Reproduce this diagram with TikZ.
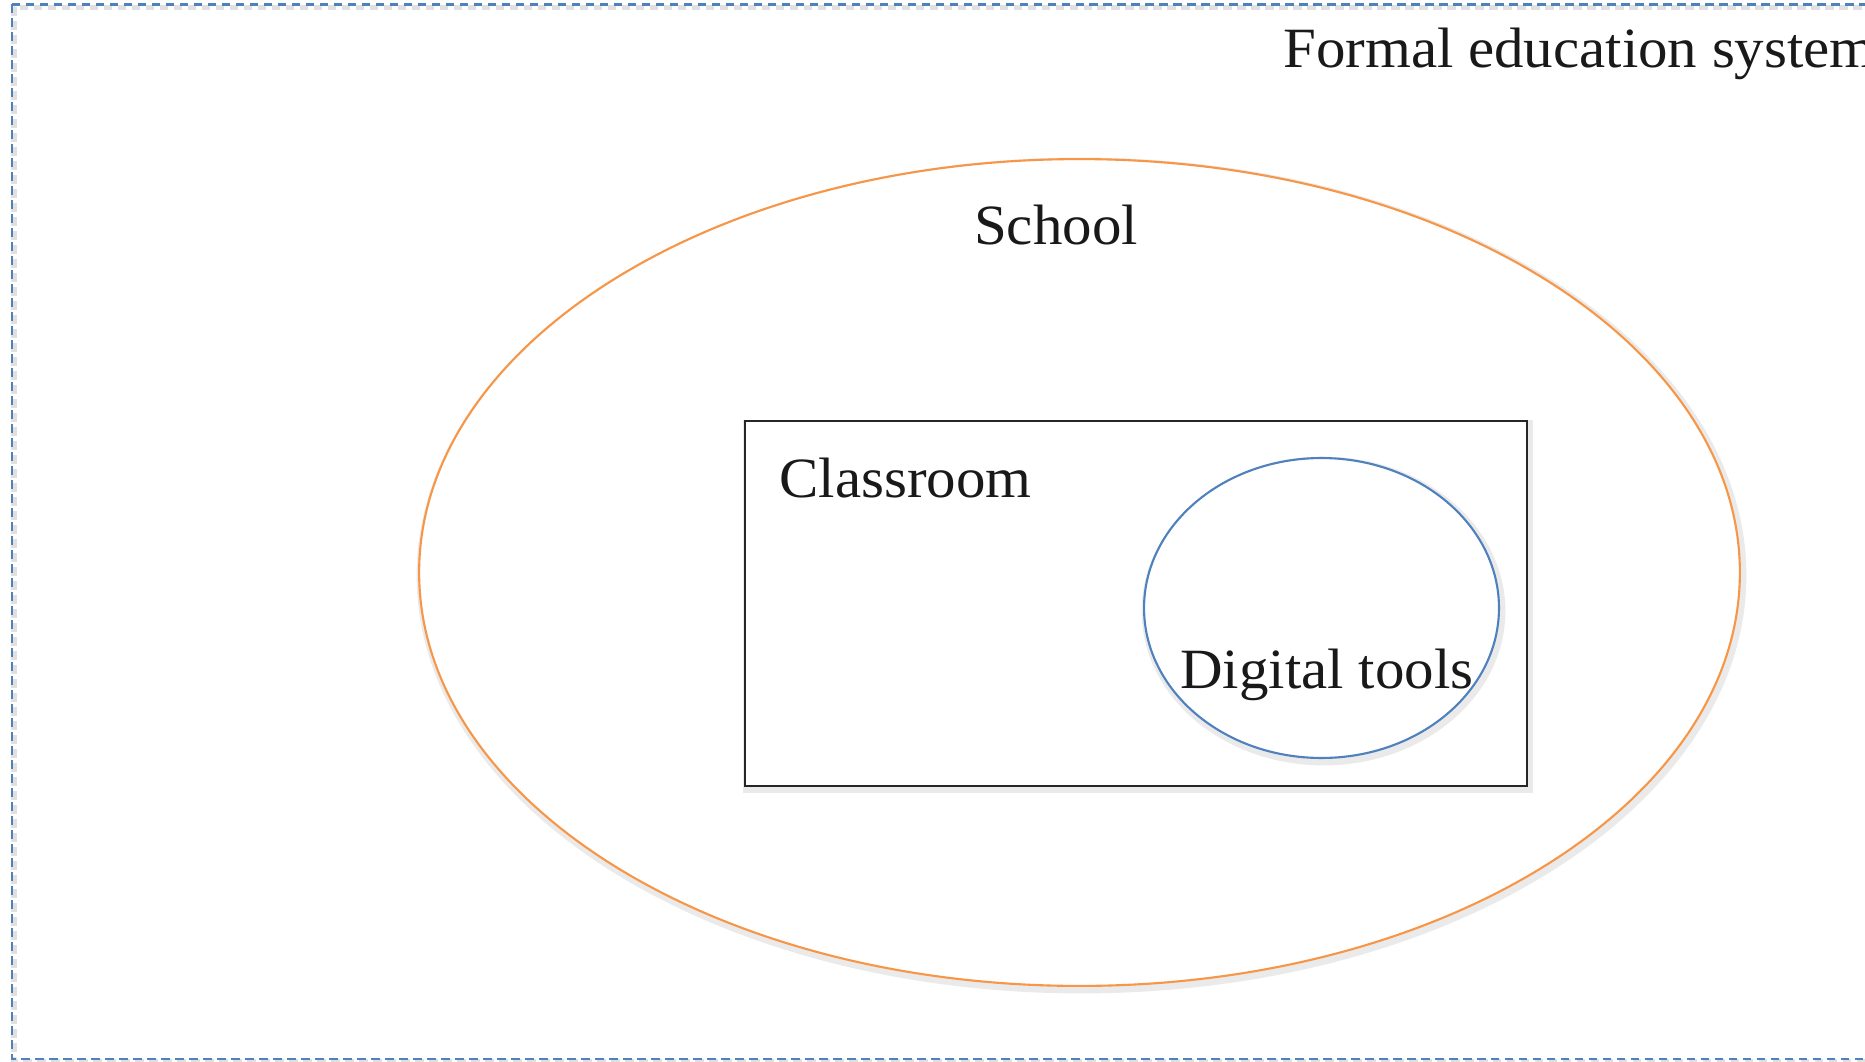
\documentclass[tikz,border=0pt]{standalone}
\usepackage{fontspec}
\setmainfont{Liberation Serif}[FakeStretch=1.035]
\usetikzlibrary{shapes.geometric}
\definecolor{offblue}{RGB}{79,129,189}
\definecolor{offorange}{RGB}{247,150,70}
\definecolor{txt}{RGB}{25,25,25}
\tikzset{
  lbl/.style={inner sep=0pt, text=txt, font=\fontsize{32.4}{38}\selectfont},
  shade/.style={draw=black!18, line width=5pt, opacity=0.45},
  schoolshape/.style={ellipse, draw=offorange, line width=1.2pt, fill=white,
    minimum width=26.42cm, minimum height=16.54cm, inner sep=0pt},
  roomshape/.style={rectangle, draw=black!85, line width=1.2pt, fill=white,
    minimum width=15.64cm, minimum height=7.3cm, inner sep=0pt},
  toolshape/.style={ellipse, draw=offblue, line width=1.2pt, fill=white,
    minimum width=7.1cm, minimum height=6.0cm, inner sep=0pt},
  frameline/.style={draw=offblue, line width=1.4pt, dash pattern=on 0.17cm off 0.11cm}
}
\begin{document}
\begin{tikzpicture}[x=0.02cm,y=-0.02cm]
\useasboundingbox (0,0) rectangle (1865,1061);
\fill[white] (0,0) rectangle (1865,1061);
\clip (0,0) rectangle (1865,1061);
% outer dashed frame
\draw[black!12, line width=3pt, dash pattern=on 0.17cm off 0.11cm] (14,7.5) rectangle (1885,1062);
\draw[frameline] (12,4.5) rectangle (1880,1059);
% shadows
\draw[shade] (1081.5,575.5) ellipse [x radius=660.5, y radius=413.5];
\node[schoolshape] (school) at (1079.5,572.5) {};
\draw[shade] (747,424) rectangle (1529,789);
\node[roomshape] (room) at (1136,603.5) {};
\draw[shade] (1323.5,611) ellipse [x radius=177.5, y radius=150];
\node[toolshape] (tools) at (1321.5,608) {};
% labels
\node[lbl, anchor=base west] (formal) at (1283,68) {Formal education system};
\node[lbl, anchor=base] (schoollbl) at (1056,244) {School};
\node[lbl, anchor=base west] (roomlbl) at (779,497) {Classroom};
\node[lbl, anchor=base west] (toolslbl) at (1180,688) {Digital tools};
\end{tikzpicture}
\end{document}
